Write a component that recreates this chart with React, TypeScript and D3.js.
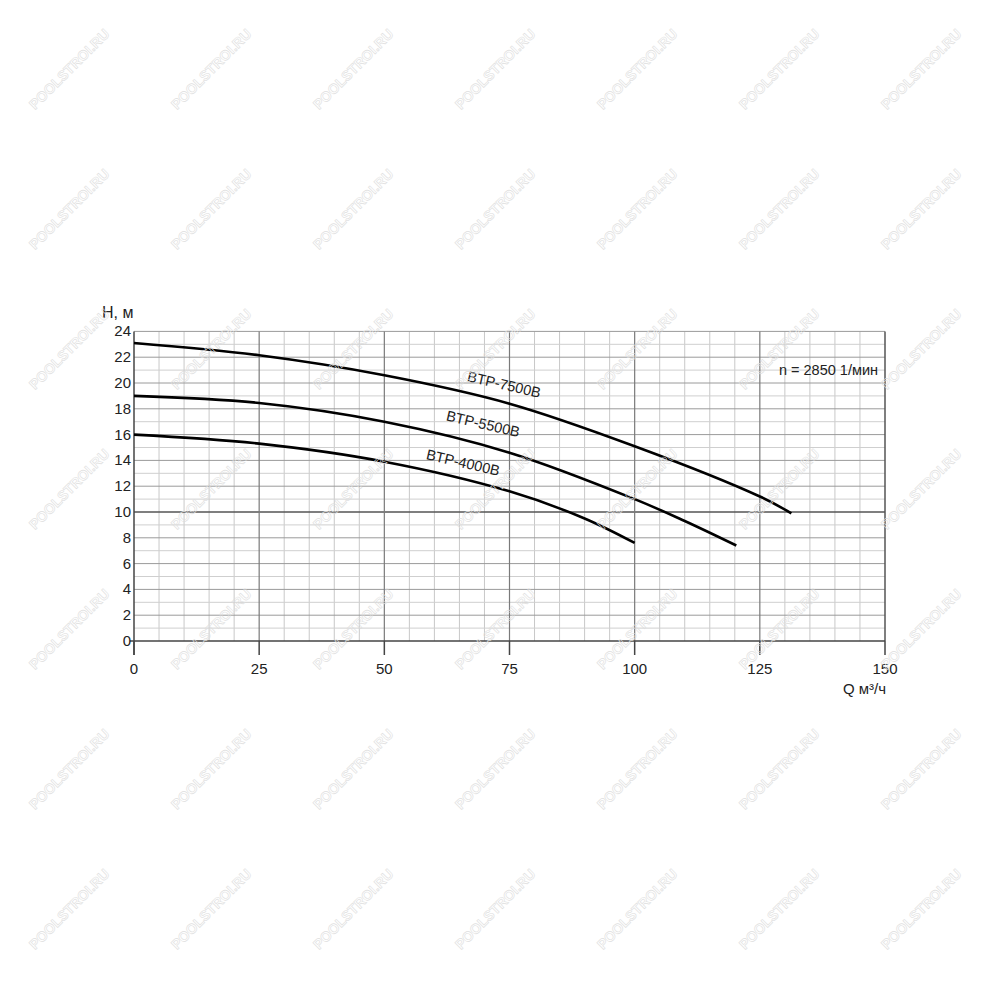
import React from "react";
import * as d3 from "d3";

const qTicks = [0, 25, 50, 75, 100, 125, 150];
const hTicks = [0, 2, 4, 6, 8, 10, 12, 14, 16, 18, 20, 22, 24];

const q7500 = [0, 25, 50, 75, 100, 125, 131.3];
const h7500 = [23.1, 22.15, 20.6, 18.4, 15.1, 11.2, 9.9];
const q5500 = [0, 25, 50, 75, 100, 110, 120.3];
const h5500 = [19.0, 18.45, 17.0, 14.6, 11.0, 9.3, 7.4];
const q4000 = [0, 25, 50, 75, 90, 100];
const h4000 = [16.0, 15.3, 13.9, 11.6, 9.5, 7.6];

const seriesNames = ["BTP-7500B", "BTP-5500B", "BTP-4000B"];
const labelQ = [73.7, 69.5, 65.5];
const labelH = [19.5, 16.45, 13.45];

const wmX = [70, 212, 354, 496, 638, 780, 922];
const wmY = [70, 210, 350, 490, 630, 770, 910];

export default function App() {
  const x = d3.scaleLinear().domain([0, 150]).range([134, 885]);
  const y = d3.scaleLinear().domain([0, 24]).range([641, 331.4]);
  const line = d3
    .line<[number, number]>()
    .x((d) => x(d[0]))
    .y((d) => y(d[1]))
    .curve(d3.curveCatmullRom.alpha(0.5));

  const series = [
    q7500.map((q, i) => [q, h7500[i]] as [number, number]),
    q5500.map((q, i) => [q, h5500[i]] as [number, number]),
    q4000.map((q, i) => [q, h4000[i]] as [number, number]),
  ];

  const vMinor = d3.range(5, 150, 5).filter((v) => v % 25 !== 0);
  const hAll = d3.range(1, 25, 1);
  const font = "'Liberation Sans', Arial, sans-serif";

  return (
    <svg
      width={1000}
      height={1000}
      style={{ position: "absolute", left: 0, top: 0, display: "block", background: "#fff" }}
      fontFamily={font}
    >
      <rect x={0} y={0} width={1000} height={1000} fill="#fff" />
      {vMinor.map((v) => (
        <line key={"vm" + v} x1={x(v)} x2={x(v)} y1={y(24)} y2={y(0)} stroke="#c8c8c8" strokeWidth={1} />
      ))}
      {hAll.map((v) => (
        <line
          key={"h" + v}
          x1={x(0)}
          x2={x(150)}
          y1={y(v)}
          y2={y(v)}
          stroke={v === 10 ? "#555" : v % 2 === 0 ? "#9a9a9a" : "#cfcfcf"}
          strokeWidth={v === 10 ? 1.6 : 1}
        />
      ))}
      {qTicks.slice(1).map((v) => (
        <line key={"vM" + v} x1={x(v)} x2={x(v)} y1={y(24)} y2={y(0)} stroke={v === 150 ? "#555" : "#7a7a7a"} strokeWidth={v === 150 ? 1.5 : 1.2} />
      ))}
      <line x1={x(0)} x2={x(0)} y1={y(24)} y2={y(0) + 14} stroke="#444" strokeWidth={1.5} />
      <line x1={x(0) - 4} x2={x(150)} y1={y(0)} y2={y(0)} stroke="#444" strokeWidth={1.5} />
      {qTicks.map((v) => (
        <line key={"t" + v} x1={x(v)} x2={x(v)} y1={y(0)} y2={y(0) + 14} stroke="#444" strokeWidth={1.5} />
      ))}
      {qTicks.map((v) => (
        <text key={"xl" + v} x={x(v)} y={y(0) + 33} fontSize={15} textAnchor="middle" fill="#222">
          {v}
        </text>
      ))}
      {hTicks.map((v) => (
        <text key={"yl" + v} x={131} y={y(v) + 5} fontSize={15} textAnchor="end" fill="#222">
          {v}
        </text>
      ))}
      <text x={102} y={318} fontSize={16} fill="#222">
        H, м
      </text>
      <text x={886} y={694} fontSize={15} textAnchor="end" fill="#222">
        Q м³/ч
      </text>
      <text x={878} y={375} fontSize={14.5} textAnchor="end" fill="#222">
        n = 2850 1/мин
      </text>
      {series.map((s, i) => (
        <path key={"c" + i} d={line(s) || ""} fill="none" stroke="#000" strokeWidth={2.6} strokeLinecap="butt" />
      ))}
      {seriesNames.map((n, i) => (
        <text
          key={"n" + i}
          x={x(labelQ[i])}
          y={y(labelH[i])}
          fontSize={14.5}
          textAnchor="middle"
          fill="#222"
          transform={`rotate(13 ${x(labelQ[i])} ${y(labelH[i])})`}
        >
          {n}
        </text>
      ))}
      {wmY.map((wy) =>
        wmX.map((wx) => (
          <text
            key={"w" + wx + "-" + wy}
            x={wx}
            y={wy}
            fontSize={14}
            fontWeight="bold"
            textAnchor="middle"
            dominantBaseline="middle"
            fill="none"
            stroke="#dedede"
            strokeWidth={0.6}
            transform={`rotate(-45 ${wx} ${wy})`}
          >
            POOLSTROI.RU
          </text>
        ))
      )}
    </svg>
  );
}
